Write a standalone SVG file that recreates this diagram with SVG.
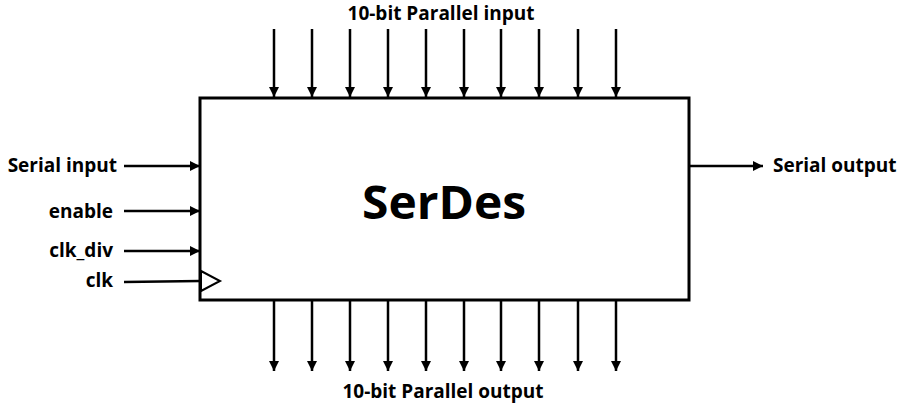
<svg xmlns="http://www.w3.org/2000/svg" width="903" height="404" viewBox="0 0 903 404">
<style>
text{font-family:"Open Sans","Liberation Sans",sans-serif;font-weight:bold;fill:#000}
.lbl{font-size:19px}
.ttl{font-size:19px}
.w{stroke:#000;stroke-width:2.5;fill:none}
</style>
<defs>
<marker id="ah" viewBox="0 0 10 10" refX="10" refY="5" markerWidth="4" markerHeight="4" orient="auto" markerUnits="strokeWidth">
<path d="M0,0L10,5L0,10z" fill="#000"/>
</marker>
</defs>
<rect width="903" height="404" fill="#fff"/>
<g id="serdes">
<rect x="200" y="98" width="489" height="202" fill="#fff" stroke="#000" stroke-width="3"/>
<text x="444" y="219" font-size="47" text-anchor="middle" textLength="164" lengthAdjust="spacingAndGlyphs">SerDes</text>
<polygon points="201,271 220,281 201,291" fill="#fff" stroke="#000" stroke-width="2"/>
</g>
<g id="connectors">
<g class="w" marker-end="url(#ah)">
<line x1="274" y1="29" x2="274" y2="97"/>
<line x1="312" y1="29" x2="312" y2="97"/>
<line x1="350" y1="29" x2="350" y2="97"/>
<line x1="388" y1="29" x2="388" y2="97"/>
<line x1="426" y1="29" x2="426" y2="97"/>
<line x1="464" y1="29" x2="464" y2="97"/>
<line x1="501" y1="29" x2="501" y2="97"/>
<line x1="539" y1="29" x2="539" y2="97"/>
<line x1="578" y1="29" x2="578" y2="97"/>
<line x1="616" y1="29" x2="616" y2="97"/>
<line x1="274" y1="301" x2="274" y2="371"/>
<line x1="312" y1="301" x2="312" y2="371"/>
<line x1="350" y1="301" x2="350" y2="371"/>
<line x1="388" y1="301" x2="388" y2="371"/>
<line x1="426" y1="301" x2="426" y2="371"/>
<line x1="464" y1="301" x2="464" y2="371"/>
<line x1="501" y1="301" x2="501" y2="371"/>
<line x1="539" y1="301" x2="539" y2="371"/>
<line x1="578" y1="301" x2="578" y2="371"/>
<line x1="616" y1="301" x2="616" y2="371"/>
<line x1="124" y1="166" x2="200" y2="166"/>
<line x1="124" y1="211" x2="200" y2="211"/>
<line x1="124" y1="251" x2="200" y2="251"/>
<line x1="690" y1="166" x2="763" y2="166"/>
</g>
<line class="w" x1="124" y1="282" x2="200" y2="281"/>
</g>
<g id="labels">
<text class="ttl" x="441" y="20" text-anchor="middle">10-bit Parallel input</text>
<text class="ttl" x="443" y="398" text-anchor="middle">10-bit Parallel output</text>
<text class="lbl" x="117" y="172" text-anchor="end">Serial input</text>
<text class="lbl" x="113" y="218" text-anchor="end">enable</text>
<text class="lbl" x="113" y="257" text-anchor="end">clk_div</text>
<text class="lbl" x="113" y="287" text-anchor="end">clk</text>
<text class="lbl" x="773" y="172">Serial output</text>
</g>
</svg>
